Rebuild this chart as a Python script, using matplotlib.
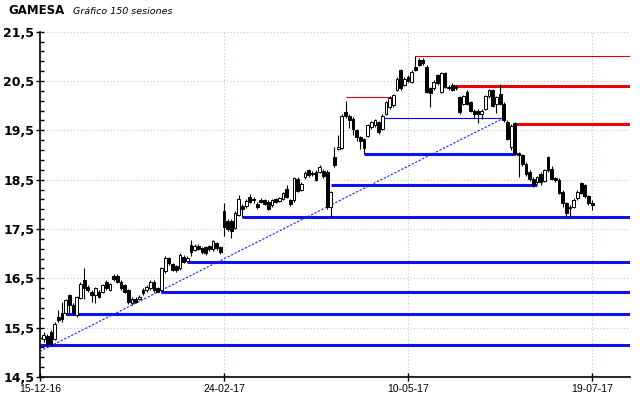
import numpy as np
import matplotlib
matplotlib.use("Agg")
import matplotlib.pyplot as plt
from matplotlib.ticker import MultipleLocator, FixedLocator

# ===============================
# GAMESA - 150 sessions candlestick chart with supports / resistances
# ===============================

opens = [15.26, 15.34, 15.41, 15.28, 15.72, 15.79, 15.79, 16.16, 15.96, 15.75,
         16.10, 16.47, 16.33, 16.23, 16.16, 16.23, 16.23, 16.43, 16.26, 16.55,
         16.55, 16.43, 16.36, 16.26, 15.99, 16.09, 16.09, 16.26, 16.26, 16.30,
         16.43, 16.30, 16.26, 16.64, 16.91, 16.79, 16.74, 16.70, 16.94, 16.86,
         17.18, 17.08, 17.16, 17.11, 17.13, 17.15, 17.09, 17.21, 17.13, 17.86,
         17.66, 17.66, 17.52, 17.79, 17.96, 17.96, 18.15, 18.11, 18.01, 18.08,
         18.08, 18.05, 17.98, 18.10, 18.07, 18.11, 18.32, 18.08, 18.08, 18.52,
         18.30, 18.55, 18.69, 18.64, 18.66, 18.66, 18.68, 18.66, 17.95, 18.96,
         19.13, 19.15, 19.87, 19.80, 19.74, 19.50, 19.36, 19.32, 19.39, 19.56,
         19.60, 19.66, 19.53, 19.84, 19.97, 20.01, 20.32, 20.72, 20.42, 20.59,
         20.49, 20.79, 20.93, 20.93, 20.79, 20.35, 20.35, 20.62, 20.28, 20.66,
         20.38, 20.42, 20.38, 20.17, 20.04, 20.28, 20.07, 19.90, 19.90, 19.84,
         19.94, 20.19, 20.31, 20.04, 20.24, 20.04, 19.67, 19.16, 19.65, 19.04,
         18.99, 18.82, 18.66, 18.52, 18.45, 18.62, 18.48, 18.96, 18.72, 18.53,
         18.50, 18.26, 18.02, 17.95, 17.95, 18.12, 18.43, 18.39, 18.16, 18.02]
highs = [15.42, 15.38, 15.45, 15.62, 15.85, 16.02, 16.08, 16.19, 16.00, 16.15,
         16.42, 16.70, 16.36, 16.26, 16.32, 16.26, 16.38, 16.46, 16.40, 16.58,
         16.59, 16.46, 16.39, 16.29, 16.12, 16.12, 16.16, 16.30, 16.36, 16.46,
         16.46, 16.33, 16.73, 16.95, 16.94, 16.82, 16.77, 17.02, 16.97, 16.96,
         17.28, 17.20, 17.19, 17.14, 17.16, 17.18, 17.28, 17.24, 17.16, 18.03,
         17.70, 17.70, 17.86, 18.18, 18.00, 18.10, 18.20, 18.14, 18.05, 18.12,
         18.11, 18.08, 18.11, 18.13, 18.15, 18.26, 18.40, 18.10, 18.56, 18.56,
         18.45, 18.67, 18.72, 18.67, 18.69, 18.80, 18.71, 18.70, 18.28, 19.16,
         19.40, 19.84, 20.10, 19.84, 19.78, 19.53, 19.39, 19.35, 19.63, 19.69,
         19.74, 19.69, 19.83, 20.10, 20.19, 20.24, 20.58, 20.75, 20.58, 20.62,
         20.72, 21.00, 20.96, 20.96, 20.82, 20.38, 20.52, 20.65, 20.69, 20.69,
         20.41, 20.45, 20.41, 20.20, 20.22, 20.31, 20.10, 19.93, 19.93, 19.93,
         20.22, 20.34, 20.34, 20.20, 20.43, 20.07, 19.70, 19.62, 19.66, 19.06,
         19.02, 18.85, 18.69, 18.55, 18.58, 18.65, 18.72, 18.98, 18.77, 18.56,
         18.53, 18.29, 18.05, 17.98, 18.12, 18.29, 18.45, 18.42, 18.19, 18.09]
lows = [15.20, 15.12, 15.12, 15.25, 15.62, 15.62, 15.75, 15.75, 15.76, 15.72,
        16.08, 16.09, 16.22, 16.03, 16.00, 16.10, 16.20, 16.27, 16.24, 16.45,
        16.40, 16.27, 16.20, 15.98, 15.96, 15.99, 16.06, 16.17, 16.23, 16.27,
        16.23, 16.22, 16.23, 16.60, 16.78, 16.64, 16.63, 16.67, 16.81, 16.83,
        16.95, 17.05, 17.07, 17.00, 16.98, 17.06, 17.06, 17.08, 17.00, 17.35,
        17.45, 17.32, 17.49, 17.76, 17.75, 17.93, 18.02, 18.03, 17.90, 18.02,
        17.98, 17.88, 17.95, 18.02, 18.04, 18.08, 18.12, 17.96, 18.05, 18.25,
        18.27, 18.52, 18.56, 18.58, 18.47, 18.63, 18.54, 17.90, 17.74, 18.76,
        19.10, 19.12, 19.76, 19.55, 19.40, 19.29, 19.12, 19.02, 19.36, 19.53,
        19.57, 19.42, 19.50, 19.81, 19.94, 19.98, 20.29, 20.32, 20.39, 20.48,
        20.46, 20.70, 20.80, 20.83, 20.25, 19.97, 20.32, 20.42, 20.25, 20.35,
        20.32, 20.29, 20.32, 19.84, 20.01, 20.01, 19.87, 19.75, 19.65, 19.74,
        19.91, 20.16, 19.97, 19.85, 20.01, 19.67, 19.30, 19.10, 19.00, 18.55,
        18.78, 18.58, 18.48, 18.35, 18.42, 18.40, 18.45, 18.66, 18.49, 18.46,
        18.20, 17.95, 17.77, 17.77, 17.92, 18.09, 18.20, 18.13, 17.99, 17.88]
closes = [15.36, 15.17, 15.17, 15.58, 15.65, 15.68, 16.06, 15.96, 15.79, 16.13,
          16.38, 16.30, 16.26, 16.16, 16.30, 16.13, 16.36, 16.30, 16.38, 16.49,
          16.43, 16.30, 16.23, 16.02, 16.09, 16.02, 16.13, 16.20, 16.33, 16.43,
          16.26, 16.23, 16.70, 16.91, 16.81, 16.67, 16.66, 16.98, 16.84, 16.92,
          17.04, 17.16, 17.10, 17.04, 17.02, 17.09, 17.25, 17.11, 17.04, 17.55,
          17.49, 17.45, 17.83, 18.10, 17.90, 18.06, 18.05, 18.08, 17.95, 18.05,
          18.01, 17.91, 18.08, 18.05, 18.12, 18.23, 18.15, 18.01, 18.54, 18.28,
          18.42, 18.64, 18.59, 18.61, 18.50, 18.76, 18.57, 17.95, 18.25, 18.79,
          19.16, 19.80, 19.80, 19.70, 19.53, 19.36, 19.29, 19.15, 19.60, 19.66,
          19.71, 19.46, 19.80, 20.08, 20.16, 20.21, 20.55, 20.35, 20.55, 20.51,
          20.69, 20.73, 20.83, 20.86, 20.28, 20.25, 20.49, 20.45, 20.66, 20.38,
          20.35, 20.32, 20.35, 19.87, 20.19, 20.04, 19.90, 19.84, 19.84, 19.90,
          20.19, 20.31, 20.00, 20.17, 20.04, 19.70, 19.33, 19.58, 19.03, 19.01,
          18.82, 18.62, 18.52, 18.39, 18.55, 18.45, 18.69, 18.69, 18.52, 18.49,
          18.23, 18.02, 17.82, 17.92, 18.09, 18.26, 18.23, 18.16, 18.02, 17.99]

# supports (blue) and resistances (red): level, first session, last session
blue_levels = [15.15, 15.78, 16.22, 16.83, 17.75, 18.39, 19.02]
blue_start = [0, 7, 33, 40, 55, 79, 88]
blue_end = [160.3, 160.3, 160.3, 160.3, 160.3, 135, 129]
red_levels = [20.40, 19.63]
red_start = [112, 129]
red_end = [160.3, 160.3]
thin_red_levels = [21.00, 20.17]
thin_red_start = [102, 83]
thin_red_end = [160.3, 96]
thin_blue_levels = [19.75]
thin_blue_start = [93]
thin_blue_end = [126]
trend_x = [0, 126]
trend_y = [15.02, 19.75]

date_ticks = [0, 50, 100, 150]
date_labels = ["15-12-16", "24-02-17", "10-05-17", "19-07-17"]
price_ticks = [14.5, 15.5, 16.5, 17.5, 18.5, 19.5, 20.5, 21.5]
price_labels = ["14,5", "15,5", "16,5", "17,5", "18,5", "19,5", "20,5", "21,5"]

o = np.array(opens)
h = np.array(highs)
l = np.array(lows)
c = np.array(closes)
idx = np.arange(1, len(c) + 1)
up = c >= o

fig = plt.figure(figsize=(6.4, 3.98), dpi=100)
ax = fig.add_axes([0.0625, 0.0528, 0.922, 0.8676])

# levels
ax.hlines(blue_levels, blue_start, blue_end, color="#1010f0", lw=2.2, zorder=2)
ax.hlines(red_levels, red_start, red_end, color="#f00000", lw=2.2, zorder=2)
ax.hlines(thin_red_levels, thin_red_start, thin_red_end, color="#e00000", lw=0.8, zorder=2)
ax.hlines(thin_blue_levels, thin_blue_start, thin_blue_end, color="#0000ff", lw=0.8, zorder=2)
ax.plot(trend_x, trend_y, color="#1a1aff", lw=0.8, dashes=(2, 1.5), zorder=2)

# candles
ax.vlines(idx, l, h, color="black", lw=0.8, zorder=3)
ax.bar(idx[up], c[up] - o[up], bottom=o[up], width=0.75,
       facecolor="white", edgecolor="black", lw=0.7, zorder=4)
ax.bar(idx[~up], o[~up] - c[~up], bottom=c[~up], width=0.75,
       facecolor="black", edgecolor="black", lw=0.7, zorder=4)

ax.set_xlim(0, 160.3)
ax.set_ylim(14.5, 21.5)

ax.xaxis.set_major_locator(FixedLocator(date_ticks))
ax.set_xticklabels(date_labels, fontsize=7.5, family="Liberation Sans")
ax.yaxis.set_major_locator(FixedLocator(price_ticks))
ax.set_yticklabels(price_labels, fontsize=9, fontweight="bold")
ax.yaxis.set_minor_locator(MultipleLocator(0.2, offset=0.1))

ax.tick_params(axis="y", which="major", direction="inout", length=6, width=1, pad=1)
ax.tick_params(axis="y", which="minor", direction="in", length=3, width=1)
ax.tick_params(axis="x", which="major", direction="inout", length=6, width=1, pad=2)

for s in ["top", "right"]:
    ax.spines[s].set_visible(False)
for s in ["left", "bottom"]:
    ax.spines[s].set_linewidth(1.2)
    ax.spines[s].set_zorder(5)

ax.yaxis.grid(True, color="#c8c8c8", linestyle=(0, (1, 2)), lw=0.8)
ax.xaxis.grid(True, color="#b8c8dc", linestyle=(0, (1, 2)), lw=0.8)
ax.set_axisbelow(True)

fig.text(8 / 640, 1 - 11 / 398, "GAMESA", fontsize=8.5, fontweight="bold", va="center")
fig.text(73 / 640, 1 - 11 / 398, "Gráfico 150 sesiones", fontsize=6.8, style="italic", va="center")

fig.savefig("out.png", dpi=100)
